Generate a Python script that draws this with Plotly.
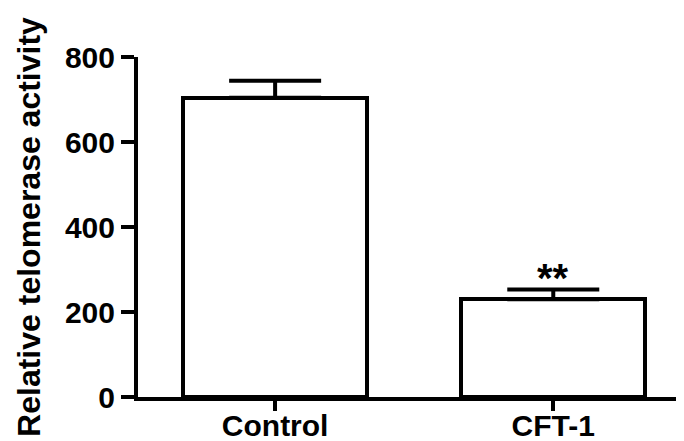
import plotly.graph_objects as go

categories = ["Control", "CFT-1"]
values = [704, 230]
errors_up = [40, 23]
y_ticks = [0, 200, 400, 600, 800]
significance = ["", "**"]

FONT = "Arial, 'Liberation Sans', sans-serif"

fig = go.Figure()
fig.add_trace(go.Bar(
    x=[0, 1],
    y=values,
    width=0.66,
    marker=dict(color="white", line=dict(color="black", width=4)),
    error_y=dict(type="data", symmetric=False, array=errors_up,
                 arrayminus=[0, 0], color="black", thickness=4, width=46),
    showlegend=False,
))

for i, s in enumerate(significance):
    if s:
        fig.add_annotation(x=i, y=values[i] + errors_up[i], text=s, showarrow=False,
                           yanchor="bottom", yshift=-13,
                           font=dict(family=FONT, size=40, color="black", weight="bold"))

# page body has an 8px default margin, so the figure is sized to the visible area
fig.update_layout(
    width=676, height=433,
    margin=dict(l=130, r=0, t=49, b=44),
    paper_bgcolor="white", plot_bgcolor="white",
    bargap=0,
)
fig.update_xaxes(
    range=[-0.493, 1.47], automargin=False,
    tickmode="array", tickvals=[0, 1], ticktext=categories,
    showline=True, linecolor="black", linewidth=4,
    ticks="outside", ticklen=10, tickwidth=4, tickcolor="black",
    ticklabelstandoff=-11,
    showgrid=False, zeroline=False,
    tickfont=dict(family=FONT, size=30, color="black", weight="bold"),
)
fig.update_yaxes(
    range=[0, 800], automargin=False,
    tickmode="array", tickvals=y_ticks,
    showline=True, linecolor="black", linewidth=4,
    ticks="outside", ticklen=13, tickwidth=4, tickcolor="black",
    showgrid=False, zeroline=False,
    tickfont=dict(family=FONT, size=30, color="black", weight="bold"),
    title=dict(text="Relative telomerase activity", standoff=16,
               font=dict(family=FONT, size=32, color="black", weight="bold")),
)

fig.write_html("out.html")
